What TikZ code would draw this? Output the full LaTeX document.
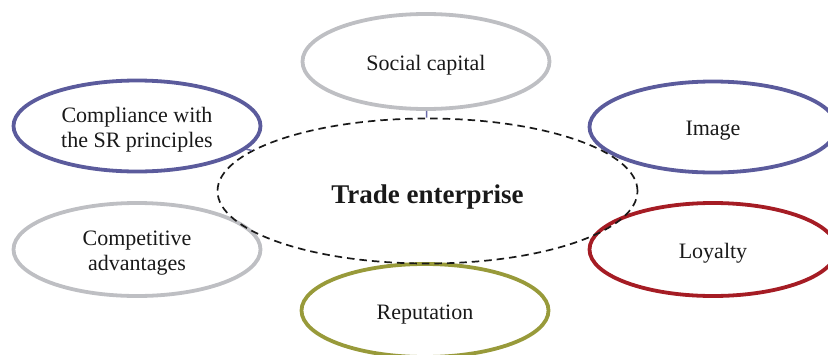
\documentclass[tikz,border=0pt]{standalone}
\usepackage{fontspec}
\setmainfont{Liberation Serif}
\usetikzlibrary{shapes.geometric}
\definecolor{ringgray}{HTML}{BEBFC3}
\definecolor{ringblue}{HTML}{5B5B9C}
\definecolor{ringred}{HTML}{A51C24}
\definecolor{ringolive}{HTML}{989A3A}
\definecolor{linkblue}{HTML}{6A6AA8}
\begin{document}
\begin{tikzpicture}[x=1pt,y=-1pt,
  factor/.style={ellipse, draw=#1, line width=3.8pt, inner sep=0pt,
    minimum width=247pt, minimum height=91pt},
  factortext/.style={yshift=-4pt, align=center,
    font=\fontsize{22}{25}\selectfont, text=black!90},
  core/.style={ellipse, draw=black!90, dashed, dash pattern=on 7.5pt off 5pt,
    line width=1.7pt, inner sep=0pt, minimum width=420pt, minimum height=145pt},
  coretext/.style={yshift=-6pt, font=\fontsize{27}{30}\selectfont\bfseries,
    text=black!90},
  link/.style={draw=linkblue, line width=1.5pt}]
\useasboundingbox (0,0) rectangle (828,354);
% outer factors around the enterprise
\node[factor=ringgray, minimum height=95pt,
  label={[factortext]center:Social capital}] (soc) at (426,61.5) {};
\node[factor=ringblue,
  label={[factortext]center:Compliance with\\the SR principles}] (comp) at (137,126) {};
\node[factor=ringblue,
  label={[factortext]center:Image}] (img) at (713,127) {};
\node[factor=ringgray, minimum height=93pt,
  label={[factortext]center:Competitive\\advantages}] (compet) at (137,249.5) {};
\node[factor=ringred, minimum height=93pt,
  label={[factortext]center:Loyalty}] (loy) at (713,249.5) {};
\node[factor=ringolive, minimum height=93pt,
  label={[factortext]center:Reputation}] (rep) at (425,310.5) {};
% central enterprise
\node[core, label={[coretext]center:Trade enterprise}] (ent) at (427.5,191) {};
% short links to the enterprise
\draw[link] (soc) -- (ent);
\draw[link] (comp.-12) -- (ent.167);
\end{tikzpicture}
\end{document}
